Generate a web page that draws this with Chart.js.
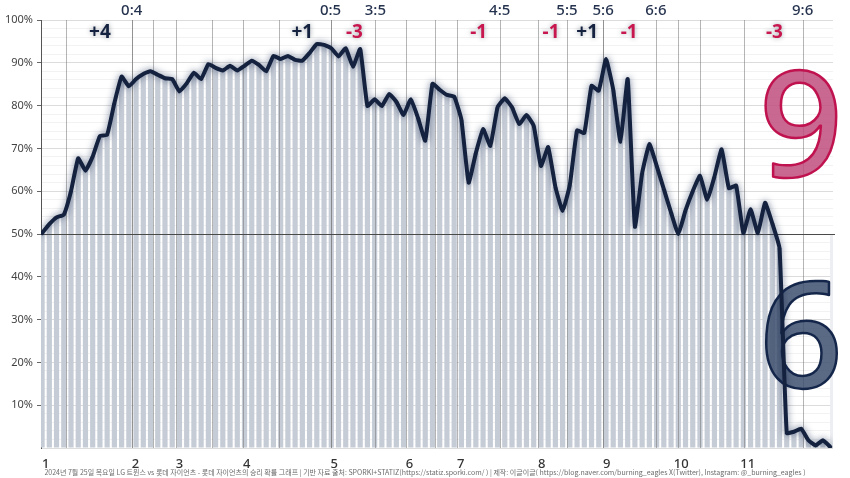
<!DOCTYPE html>
<html>
<head>
<meta charset="utf-8">
<script src="https://cdn.jsdelivr.net/npm/chart.js@4.4.1/dist/chart.umd.min.js"></script>
<style>
  html, body { margin: 0; padding: 0; background: #fff; }
  #wrap { width: 850px; height: 478px; }
</style>
</head>
<body>
<div id="wrap"><canvas id="chart"></canvas></div>
<script>
// Lotte win probability, one value per plate appearance
const winProb = [
  50.2, 52.3, 53.9, 54.5, 60.0, 67.7, 64.8, 68.1, 72.9, 73.2,
  80.6, 86.8, 84.5, 86.2, 87.4, 88.0, 87.2, 86.4, 86.2, 83.3,
  85.2, 87.7, 86.2, 89.7, 88.8, 88.2, 89.3, 88.2, 89.3, 90.5,
  89.5, 88.0, 91.6, 90.9, 91.6, 90.7, 90.5, 92.3, 94.4, 94.2,
  93.4, 91.5, 93.4, 89.1, 93.2, 79.9, 81.5, 79.9, 82.7, 80.9,
  77.8, 81.5, 77.1, 71.8, 85.1, 83.7, 82.5, 82.1, 76.7, 62.0,
  68.9, 74.5, 70.6, 79.6, 81.7, 79.6, 75.7, 77.8, 75.3, 65.9,
  70.3, 61.0, 55.4, 61.5, 74.2, 73.6, 84.6, 83.5, 90.9, 83.7,
  71.6, 86.2, 51.7, 64.2, 71.0, 66.0, 60.5, 55.0, 50.0, 55.5,
  60.0, 63.6, 58.0, 63.4, 69.8, 60.7, 61.3, 50.2, 55.8, 50.2,
  57.3, 52.5, 46.7, 3.5, 3.8, 4.5, 1.8, 0.6, 1.8, 0.3
];

// innings (index of first plate appearance)
const inningLabels = ['1', '2', '3', '4', '5', '6', '7', '8', '9', '10', '11'];
const inningStarts = [0, 12.4, 18.5, 27.8, 39.9, 50.3, 57.4, 68.6, 77.6, 87.9, 97.1];
const halfInningStarts = [3.3, 15.4, 23.5, 32.8, 54.4, 91.0];

// score changes (LG : Lotte)
const scoreLabels = ['0:4', '0:5', '3:5', '4:5', '5:5', '5:6', '6:6', '9:6'];
const scoreAt = [12.4, 39.9, 46.1, 63.3, 72.6, 77.6, 84.9, 105.2];

// runs for Lotte (+) / LG (-)
const runLabels = ['+4', '+1', '-3', '-1', '-1', '+1', '-1', '-3'];
const runAt = [8.0, 36.0, 43.2, 60.4, 70.4, 75.4, 81.2, 101.3];

const finalScore = { lg: '9', lotte: '6' };
const footer = '2024년 7월 25일 목요일 LG 트윈스 vs 롯데 자이언츠 - 롯데 자이언츠의 승리 확률 그래프 | 기반 자료 출처: SPORKI+STATIZ(https://statiz.sporki.com/ ) | 제작: 이글이글( https://blog.naver.com/burning_eagles X(Twitter), Instagram: @_burning_eagles )';

const NAVY = '#14223f';
const RED = '#c8174f';

const points = winProb.map((v, i) => ({ x: i, y: v }));

const decor = {
  id: 'decor',
  beforeDatasetsDraw(chart) {
    const { ctx, chartArea: a, scales: { x, y } } = chart;
    // light box after the last plate appearance, below 50%
    ctx.save();
    ctx.fillStyle = '#eceef1';
    const x0 = x.getPixelForValue(winProb.length - 1);
    ctx.fillRect(x0, y.getPixelForValue(50), a.right - x0, a.bottom - y.getPixelForValue(50));
    ctx.restore();
  },
  beforeDatasetDraw(chart, args) {
    if (args.meta.type === 'line') {
      const ctx = chart.ctx;
      ctx.save();
      ctx.shadowColor = 'rgba(20,40,80,0.6)';
      ctx.shadowBlur = 7;
    }
  },
  afterDatasetDraw(chart, args) {
    const { ctx, chartArea: a, scales: { x, y } } = chart;
    if (args.meta.type === 'line') {
      ctx.restore();
      return;
    }
    ctx.save();
    // vertical lines: innings, half innings, score changes
    ctx.strokeStyle = 'rgba(120,120,120,0.55)';
    ctx.lineWidth = 1;
    [...inningStarts.slice(1), ...halfInningStarts, ...scoreAt].forEach(v => {
      const px = Math.round(x.getPixelForValue(v)) + 0.5;
      ctx.beginPath();
      ctx.moveTo(px, a.top);
      ctx.lineTo(px, a.bottom);
      ctx.stroke();
    });
    // 50% line
    const y50 = Math.round(y.getPixelForValue(50)) + 0.5;
    ctx.strokeStyle = '#4a4a4a';
    ctx.beginPath();
    ctx.moveTo(a.left, y50);
    ctx.lineTo(a.right + 2, y50);
    ctx.stroke();

    // final score
    ctx.font = '500 147px "Noto Sans"';
    ctx.textAlign = 'center';
    ctx.textBaseline = 'alphabetic';
    ctx.lineWidth = 2.5;
    ctx.lineJoin = 'round';
    ctx.fillStyle = 'rgba(192,78,124,0.85)';
    ctx.strokeStyle = '#c0124e';
    ctx.fillText(finalScore.lg, a.right - 32, 177);
    ctx.strokeText(finalScore.lg, a.right - 32, 177);
    ctx.fillStyle = 'rgba(62,80,110,0.85)';
    ctx.strokeStyle = '#14264a';
    ctx.fillText(finalScore.lotte, a.right - 32, 388);
    ctx.strokeText(finalScore.lotte, a.right - 32, 388);
    ctx.restore();
  },
  afterDraw(chart) {
    const { ctx, chartArea: a, scales: { x } } = chart;
    ctx.save();
    ctx.textAlign = 'center';
    ctx.textBaseline = 'middle';
    // score labels above the plot
    ctx.font = '500 15px "Noto Sans"';
    ctx.fillStyle = '#26334f';
    scoreLabels.forEach((s, i) => ctx.fillText(s, x.getPixelForValue(scoreAt[i]), a.top - 9));
    // runs scored
    ctx.font = 'bold 19px "Noto Sans"';
    ctx.shadowColor = 'rgba(40,50,70,0.45)';
    ctx.shadowBlur = 5;
    runLabels.forEach((s, i) => {
      ctx.fillStyle = s[0] === '+' ? NAVY : RED;
      ctx.fillText(s.replace('-', '\u2010'), x.getPixelForValue(runAt[i]), a.top + 13);
    });
    ctx.shadowBlur = 0;
    // footer
    ctx.font = '7px "Noto Sans CJK KR"';
    ctx.fillStyle = '#6c6c6c';
    ctx.fillText(footer, 425, 472);
    ctx.restore();
  }
};

new Chart(document.getElementById('chart'), {
  type: 'bar',
  data: {
    datasets: [
      {
        type: 'line',
        data: points,
        borderColor: NAVY,
        borderWidth: 4,
        tension: 0.12,
        borderJoinStyle: 'round',
        borderCapStyle: 'round',
        pointRadius: 0,
        fill: false,
        order: 0
      },
      {
        type: 'bar',
        data: points,
        backgroundColor: '#c6ccd6',
        barPercentage: 0.72,
        categoryPercentage: 1,
        order: 1
      }
    ]
  },
  options: {
    responsive: true,
    maintainAspectRatio: false,
    animation: false,
    layout: { padding: { top: 20, right: 17, left: 0, bottom: 0 } },
    plugins: { legend: { display: false }, tooltip: { enabled: false } },
    scales: {
      x: {
        type: 'linear',
        offset: false,
        min: -0.15,
        max: 109.4,
        grid: { display: false, offset: false },
        border: { display: false },
        afterBuildTicks(scale) {
          scale.ticks = inningStarts.map(v => ({ value: v + 0.5 }));
        },
        afterFit(scale) { scale.height = 30; },
        ticks: {
          autoSkip: false,
          maxRotation: 0,
          padding: 0,
          color: '#333',
          font: { family: 'Noto Sans', size: 13, weight: '500' },
          callback: (v, i) => inningLabels[i]
        }
      },
      y: {
        min: 0,
        max: 100,
        afterFit(scale) { scale.width = 41; },
        border: { display: true, color: '#555', width: 1 },
        grid: {
          tickLength: 4,
          color: c => c.tick.value % 10 === 0 ? '#dcdcdc' : '#f2f2f2',
          tickColor: c => c.tick.value % 10 === 0 && c.tick.value > 0 ? '#666' : 'rgba(0,0,0,0)'
        },
        ticks: {
          stepSize: 2,
          autoSkip: false,
          padding: 4,
          color: '#444',
          font: { family: 'Noto Sans', size: 11 },
          callback: v => (v % 10 === 0 && v > 0) ? v + '%' : ''
        }
      }
    }
  },
  plugins: [decor]
});
</script>
</body>
</html>
